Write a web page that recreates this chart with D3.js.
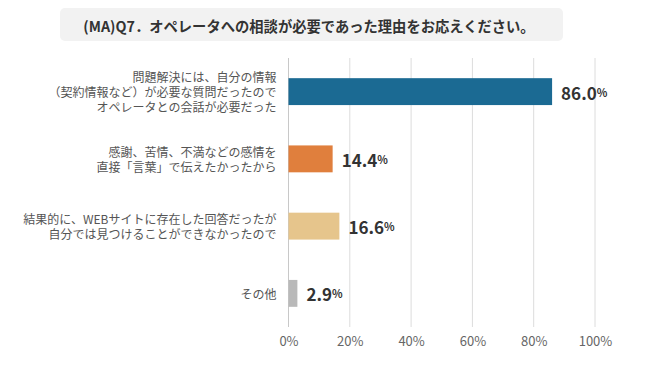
<!DOCTYPE html>
<html>
<head>
  <meta charset="utf-8" />
  <title>Q7</title>
  <style>
    body { margin: 0; background: #fff; font-family: "Noto Sans CJK JP", "Noto Sans", sans-serif; }
    #chartArea { width: 670px; height: 375px; }
  </style>
  <script src="https://cdnjs.cloudflare.com/ajax/libs/d3/7.8.5/d3.min.js"></script>
</head>
<body>
  <div id="chartArea"></div>
  <script>
    var title = "(MA)Q7．オペレータへの相談が必要であった理由をお応えください。";
    var categories = [
      ["問題解決には、自分の情報", "（契約情報など）が必要な質問だったので", "オペレータとの会話が必要だった"],
      ["感謝、苦情、不満などの感情を", "直接「言葉」で伝えたかったから"],
      ["結果的に、WEBサイトに存在した回答だったが", "自分では見つけることができなかったので"],
      ["その他"]
    ];
    var values = [86.0, 14.4, 16.6, 2.9];
    var colors = ["#1b6a93", "#e07f3d", "#e6c58c", "#b9b9b9"];
    var ticks = [0, 20, 40, 60, 80, 100];

    var W = 670, H = 375;
    var margin = { top: 58, right: 75, bottom: 48, left: 288.5 };
    var w = W - margin.left - margin.right,
      h = H - margin.top - margin.bottom;

    var svg = d3.select('#chartArea')
      .append('svg')
      .attr('width', W)
      .attr('height', H);

    // title box
    svg.append('rect')
      .attr('x', 60).attr('y', 8)
      .attr('width', 503).attr('height', 33)
      .attr('rx', 5)
      .attr('fill', '#f2f2f2');
    svg.append('text')
      .attr('x', 309).attr('y', 25)
      .attr('text-anchor', 'middle')
      .attr('dominant-baseline', 'central')
      .attr('font-size', 14.3)
      .attr('font-weight', 'bold')
      .attr('fill', '#333')
      .text(title);

    var g = svg.append('g')
      .attr('transform', 'translate(' + margin.left + ',' + margin.top + ')');

    var xScale = d3.scaleLinear().domain([0, 100]).range([0, w]);
    var yScale = d3.scaleBand()
      .domain(d3.range(values.length))
      .range([0, h])
      .paddingInner(0.6)
      .paddingOuter(0.3);

    // gridlines
    g.selectAll('.grid')
      .data(ticks)
      .enter().append('line')
      .attr('x1', d => xScale(d)).attr('x2', d => xScale(d))
      .attr('y1', 0).attr('y2', h)
      .attr('stroke', d => d === 0 ? '#c8c8c8' : '#dcdcdc')
      .attr('stroke-width', 1);

    var xAxis = d3.axisBottom(xScale)
      .tickValues(ticks)
      .tickFormat(d => d + '%')
      .tickSize(0)
      .tickPadding(10);
    var ax = g.append('g')
      .attr('transform', 'translate(0,' + h + ')')
      .call(xAxis);
    ax.select('.domain').remove();
    ax.selectAll('text')
      .attr('font-family', '"Noto Sans CJK JP", sans-serif')
      .attr('font-size', 13)
      .attr('fill', '#666');

    // bars
    g.selectAll('.bar')
      .data(values)
      .enter().append('rect')
      .attr('x', 0)
      .attr('y', (d, i) => yScale(i))
      .attr('width', d => xScale(d))
      .attr('height', yScale.bandwidth())
      .attr('fill', (d, i) => colors[i]);

    // value labels
    var vl = g.selectAll('.val')
      .data(values)
      .enter().append('text')
      .attr('x', d => xScale(d) + 9)
      .attr('y', (d, i) => yScale(i) + yScale.bandwidth() / 2)
      .attr('dominant-baseline', 'central')
      .attr('fill', '#333')
      .attr('font-weight', 'bold');
    vl.append('tspan').attr('font-size', 17).text(d => d.toFixed(1));
    vl.append('tspan').attr('font-size', 11).text('%');

    // category labels, one text per line
    categories.forEach((lines, i) => {
      var cy = yScale(i) + yScale.bandwidth() / 2;
      var lh = 15;
      g.selectAll(null)
        .data(lines)
        .enter().append('text')
        .attr('x', -12)
        .attr('y', (s, k) => cy + (k - (lines.length - 1) / 2) * lh)
        .attr('text-anchor', 'end')
        .attr('dominant-baseline', 'central')
        .attr('font-size', 12)
        .attr('fill', '#555')
        .text(s => s);
    });
  </script>
</body>
</html>
